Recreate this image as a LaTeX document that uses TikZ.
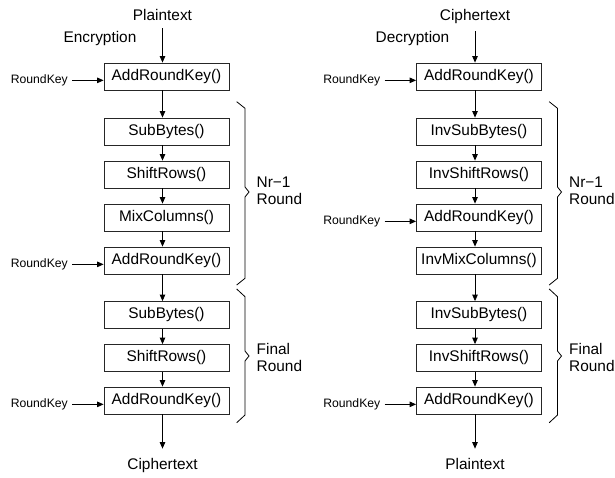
\documentclass[tikz,border=0pt]{standalone}
\usepackage{fontspec}
\setmainfont{Liberation Sans}
\usetikzlibrary{arrows.meta}
\begin{document}
\begin{tikzpicture}[x=1pt,y=-1pt,
  stepbox/.style={draw=black!85, line width=0.8pt, minimum width=125pt,
    minimum height=27pt, inner sep=0pt, font=\fontsize{15.4}{18}\selectfont},
  lbl/.style={font=\fontsize{15.4}{18}\selectfont, inner sep=3pt, anchor=base},
  keylbl/.style={font=\fontsize{12.2}{14}\selectfont, inner sep=0pt, anchor=base east},
  grp/.style={font=\fontsize{15.4}{17}\selectfont, align=left, anchor=west, inner sep=0pt},
  arr/.style={draw=black, line width=0.8pt, -{Triangle[length=6.5pt,width=5.5pt]}},
  keyarr/.style={arr, shorten <=4pt},
  bracepath/.style={draw=black, line width=0.8pt, line join=miter}
]
\useasboundingbox (0,0) rectangle (615,477);

% ---------------- Encryption ----------------
\node[lbl] (ein) at (162.5,20.5) {Plaintext};
\node[lbl] (enc) at (100,42) {Encryption};
\node[stepbox] (e1) at (166.5,76.5) {AddRoundKey()};
\node[stepbox] (e2) at (166.5,131.5) {SubBytes()};
\node[stepbox] (e3) at (166.5,174.5) {ShiftRows()};
\node[stepbox] (e4) at (166.5,217.5) {MixColumns()};
\node[stepbox] (e5) at (166.5,260.5) {AddRoundKey()};
\node[stepbox] (e6) at (166.5,315) {SubBytes()};
\node[stepbox] (e7) at (166.5,358) {ShiftRows()};
\node[stepbox] (e8) at (166.5,400.5) {AddRoundKey()};
\node[lbl] (eout) at (162.5,469) {Ciphertext};

\node[keylbl] (ek1) at (68,83.5) {RoundKey};
\node[keylbl] (ek2) at (68,267.5) {RoundKey};
\node[keylbl] (ek3) at (68,407.5) {RoundKey};

\draw[arr, shorten <=4.5pt] (ein.south) -- ([xshift=-4pt]e1.north);
\foreach \a/\b in {e1/e2,e2/e3,e3/e4,e4/e5,e5/e6,e6/e7,e7/e8}
  \draw[arr] ([xshift=-4pt]\a.south) -- ([xshift=-4pt]\b.north);
\draw[arr, shorten >=6pt] ([xshift=-4pt]e8.south) -- (eout.north);
\draw[keyarr] (ek1.east) -- (ek1.east -| e1.west);
\draw[keyarr] (ek2.east) -- (ek2.east -| e5.west);
\draw[keyarr] (ek3.east) -- (ek3.east -| e8.west);

\draw[bracepath] (236.7,101.7) -- (245,108.3) -- (245,187) -- (249,192)
  -- (245,197) -- (245,278.3) -- (236.7,285);
\draw[bracepath] (236.7,289) -- (245,296.7) -- (245,351) -- (249,356)
  -- (245,361) -- (245,415) -- (236.7,422.7);
\node[grp] (eg1) at (256.5,191) {Nr−1\\Round};
\node[grp] (eg2) at (256.5,357) {Final\\Round};

% ---------------- Decryption ----------------
\node[lbl] (din) at (475,20.5) {Ciphertext};
\node[lbl] (dec) at (412.5,42) {Decryption};
\node[stepbox] (d1) at (479,76.5) {AddRoundKey()};
\node[stepbox] (d2) at (479,131.5) {InvSubBytes()};
\node[stepbox] (d3) at (479,174.5) {InvShiftRows()};
\node[stepbox] (d4) at (479,217.5) {AddRoundKey()};
\node[stepbox] (d5) at (479,260.5) {InvMixColumns()};
\node[stepbox] (d6) at (479,315) {InvSubBytes()};
\node[stepbox] (d7) at (479,358) {InvShiftRows()};
\node[stepbox] (d8) at (479,400.5) {AddRoundKey()};
\node[lbl] (dout) at (475,469) {Plaintext};

\node[keylbl] (dk1) at (380.5,83.5) {RoundKey};
\node[keylbl] (dk2) at (380.5,224.5) {RoundKey};
\node[keylbl] (dk3) at (380.5,407.5) {RoundKey};

\draw[arr, shorten <=4.5pt] (din.south) -- ([xshift=-4pt]d1.north);
\foreach \a/\b in {d1/d2,d2/d3,d3/d4,d4/d5,d5/d6,d6/d7,d7/d8}
  \draw[arr] ([xshift=-4pt]\a.south) -- ([xshift=-4pt]\b.north);
\draw[arr, shorten >=6pt] ([xshift=-4pt]d8.south) -- (dout.north);
\draw[keyarr] (dk1.east) -- (dk1.east -| d1.west);
\draw[keyarr] (dk2.east) -- (dk2.east -| d4.west);
\draw[keyarr] (dk3.east) -- (dk3.east -| d8.west);

\draw[bracepath] (549.2,101.7) -- (557.5,108.3) -- (557.5,187) -- (561.5,192)
  -- (557.5,197) -- (557.5,278.3) -- (549.2,285);
\draw[bracepath] (549.2,289) -- (557.5,296.7) -- (557.5,351) -- (561.5,356)
  -- (557.5,361) -- (557.5,415) -- (549.2,422.7);
\node[grp] (dg1) at (569,191) {Nr−1\\Round};
\node[grp] (dg2) at (569,357) {Final\\Round};
\end{tikzpicture}
\end{document}
